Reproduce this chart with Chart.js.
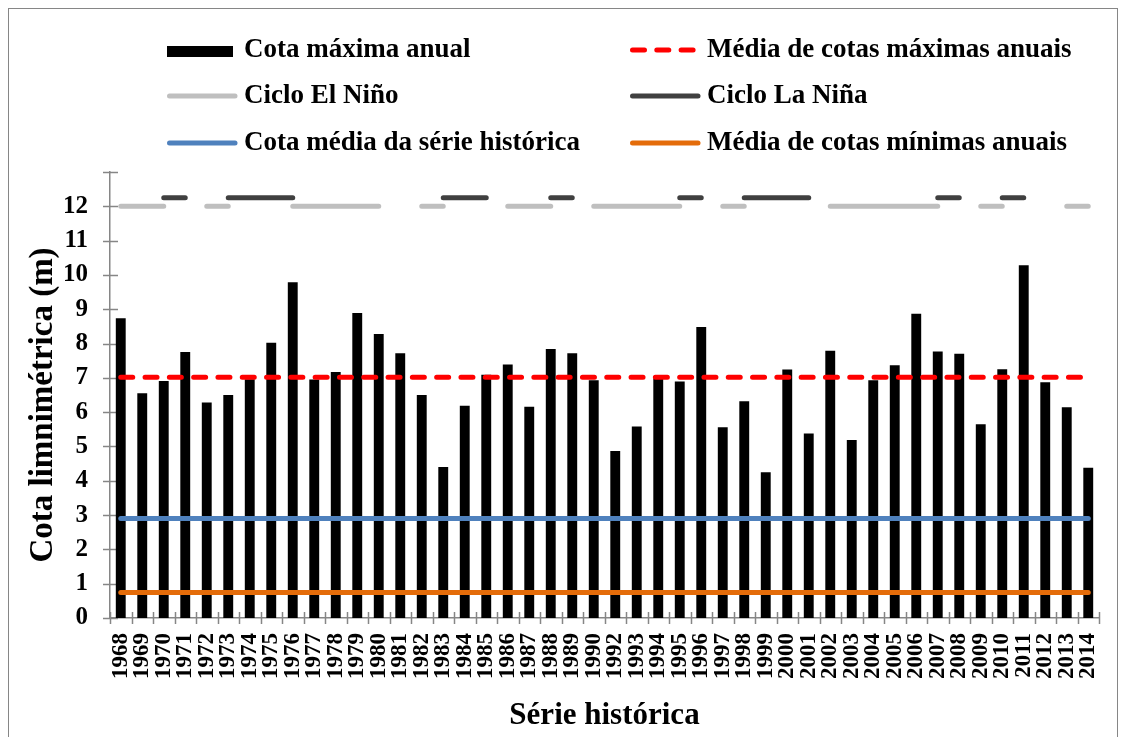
<!DOCTYPE html>
<html lang="pt">
<head>
<meta charset="utf-8">
<title>Cota máxima anual</title>
<script src="https://cdn.jsdelivr.net/npm/chart.js@4.4.1/dist/chart.umd.min.js"></script>
<style>
  html, body { margin: 0; padding: 0; background: #fff; }
  #wrap { width: 1126px; height: 737px; }
</style>
</head>
<body>
<div id="wrap"><canvas id="chart" width="1126" height="737"></canvas></div>
<script>
// Série histórica (1991 sem registro)
const years = [
  1968, 1969, 1970, 1971, 1972, 1973, 1974, 1975, 1976, 1977, 1978, 1979,
  1980, 1981, 1982, 1983, 1984, 1985, 1986, 1987, 1988, 1989, 1990,
  1992, 1993, 1994, 1995, 1996, 1997, 1998, 1999, 2000, 2001, 2002, 2003,
  2004, 2005, 2006, 2007, 2008, 2009, 2010, 2011, 2012, 2013, 2014
];

// Cota máxima anual (m)
const maxLevel = [
  8.74, 6.55, 6.91, 7.75, 6.28, 6.50, 6.96, 8.02, 9.79, 6.95, 7.17, 8.89,
  8.28, 7.72, 6.50, 4.40, 6.19, 7.09, 7.39, 6.16, 7.84, 7.72, 6.93,
  4.87, 5.58, 6.98, 6.89, 8.48, 5.56, 6.32, 4.25, 7.24, 5.38, 7.79, 5.19,
  6.93, 7.37, 8.87, 7.77, 7.70, 5.65, 7.25, 10.28, 6.87, 6.14, 4.38
];

// Ciclos ENOS (ano inicial, ano final)
const elNinoCycles = [
  [1968, 1970], [1972, 1973], [1976, 1980], [1982, 1983], [1986, 1988],
  [1990, 1995], [1997, 1998], [2002, 2007], [2009, 2010], [2013, 2014]
];
const laNinaCycles = [
  [1970, 1971], [1973, 1976], [1983, 1985], [1988, 1989],
  [1995, 1996], [1998, 2001], [2007, 2008], [2010, 2011]
];
const elNinoLevel = 12;
const laNinaLevel = 12.25;

// Médias (m)
const meanMaxLevel = 7.02;
const meanLevel = 2.9;
const meanMinLevel = 0.74;

const yMax = 13;
const yLabelMax = 12;
const yTitle = 'Cota limnimétrica (m)';

const FONT = "'Liberation Serif', 'Times New Roman', serif";

function cycleSeries(cycles, level) {
  return years.map(y => cycles.some(([a, b]) => y >= a && y <= b) ? level : null);
}
const flat = v => years.map(() => v);

const lineBase = {
  type: 'line',
  pointRadius: 0,
  pointHoverRadius: 0,
  borderWidth: 5,
  borderCapStyle: 'round',
  borderJoinStyle: 'round',
  tension: 0,
  fill: false,
  order: 1
};

// Tick marks crossing the axes, outer frame, y title and the two-column legend
const chartDecor = {
  id: 'chartDecor',
  beforeDatasetsDraw(chart) {
    const ctx = chart.ctx;
    const xs = chart.scales.x, ys = chart.scales.y;
    ctx.save();
    ctx.strokeStyle = '#868686';
    ctx.lineWidth = 1.5;
    ctx.beginPath();
    for (let v = 0; v <= yMax; v++) {
      const y = Math.round(ys.getPixelForValue(v)) + 0.5;
      ctx.moveTo(ys.right - 7, y);
      ctx.lineTo(ys.right + 8, y);
    }
    const n = years.length;
    const step = (xs.right - xs.left) / n;
    for (let i = 0; i <= n; i++) {
      const x = Math.round(xs.left + i * step) + 0.5;
      ctx.moveTo(x, xs.top - 6);
      ctx.lineTo(x, xs.top + 6);
    }
    ctx.stroke();
    ctx.restore();
  },
  afterDraw(chart) {
    const ctx = chart.ctx;
    ctx.save();
    ctx.strokeStyle = '#868686';
    ctx.lineWidth = 1;
    ctx.strokeRect(8.5, 8.5, 1109, 800);

    // y axis title
    ctx.save();
    ctx.translate(43, 405);
    ctx.rotate(-Math.PI / 2);
    ctx.font = 'bold 33px ' + FONT;
    ctx.fillStyle = '#000';
    ctx.textAlign = 'center';
    ctx.textBaseline = 'middle';
    ctx.fillText(yTitle, 0, 0);
    ctx.restore();

    const colX = [167, 630];
    const rowY = [50, 96, 143];
    ctx.font = 'bold 27px ' + FONT;
    ctx.textBaseline = 'middle';
    ctx.textAlign = 'left';
    chart.data.datasets.forEach((ds, i) => {
      const x0 = colX[i % 2];
      const y = rowY[Math.floor(i / 2)];
      if (ds.type === 'bar') {
        ctx.fillStyle = ds.backgroundColor;
        ctx.fillRect(x0, y - 4, 66, 11);
      } else {
        ctx.strokeStyle = ds.borderColor;
        ctx.lineWidth = ds.borderWidth;
        ctx.lineCap = 'round';
        ctx.setLineDash(ds.borderDash || []);
        ctx.beginPath();
        ctx.moveTo(x0 + 2.5, y);
        ctx.lineTo(x0 + 68, y);
        ctx.stroke();
        ctx.setLineDash([]);
      }
      ctx.fillStyle = '#000';
      ctx.fillText(ds.label, x0 + 77, y);
    });
    ctx.restore();
  }
};

const chart = new Chart(document.getElementById('chart').getContext('2d'), {
  data: {
    labels: years.map(String),
    datasets: [
      {
        type: 'bar',
        label: 'Cota máxima anual',
        data: maxLevel,
        backgroundColor: '#000000',
        categoryPercentage: 1,
        barPercentage: 0.46,
        order: 10
      },
      {
        ...lineBase,
        label: 'Média de cotas máximas anuais',
        data: flat(meanMaxLevel),
        borderColor: '#FF0000',
        borderDash: [12, 12.3],
        order: 0
      },
      {
        ...lineBase,
        label: 'Ciclo El Niño',
        data: cycleSeries(elNinoCycles, elNinoLevel),
        borderColor: '#BFBFBF'
      },
      {
        ...lineBase,
        label: 'Ciclo La Niña',
        data: cycleSeries(laNinaCycles, laNinaLevel),
        borderColor: '#404040'
      },
      {
        ...lineBase,
        label: 'Cota média da série histórica',
        data: flat(meanLevel),
        borderColor: '#4F81BD'
      },
      {
        ...lineBase,
        label: 'Média de cotas mínimas anuais',
        data: flat(meanMinLevel),
        borderColor: '#E46C0A'
      }
    ]
  },
  options: {
    responsive: false,
    animation: false,
    layout: { padding: { top: 172, right: 27, left: 0, bottom: 0 } },
    plugins: {
      legend: { display: false },
      tooltip: { enabled: false }
    },
    scales: {
      x: {
        type: 'category',
        offset: true,
        grid: { display: false },
        border: { display: true, color: '#868686', width: 1.5 },
        ticks: {
          autoSkip: false,
          minRotation: 90,
          maxRotation: 90,
          padding: 7,
          color: '#000',
          font: { family: FONT, size: 23, weight: 'bold' }
        },
        title: {
          display: true,
          text: 'Série histórica',
          color: '#000',
          font: { family: FONT, size: 31, weight: 'bold', lineHeight: 1.2 },
          padding: { top: 0, bottom: 2 }
        },
        afterFit(scale) { scale.height = 119; }
      },
      y: {
        min: 0,
        max: yMax,
        grid: { display: false },
        border: { display: true, color: '#868686', width: 1.5 },
        ticks: {
          stepSize: 1,
          padding: 14,
          color: '#000',
          font: { family: FONT, size: 25, weight: 'bold' },
          callback: v => (v <= yLabelMax ? v : '')
        },
        afterFit(scale) { scale.width = 110; }
      }
    }
  },
  plugins: [chartDecor]
});
</script>
</body>
</html>
